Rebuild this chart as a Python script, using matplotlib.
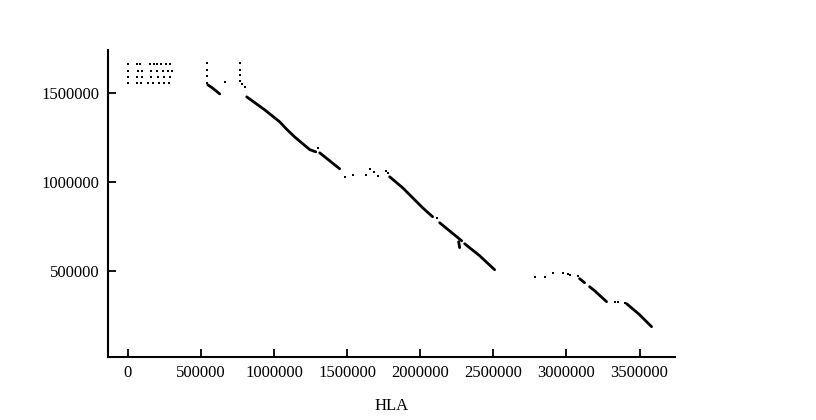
import numpy as np
import matplotlib
matplotlib.use("Agg")
import matplotlib.pyplot as plt

# isolated dots (HLA position, other-sequence position)
dots_x = [
    # top-left grid
    0, 60000, 85000, 155000, 180000, 200000, 225000, 260000, 290000,
    0, 70000, 95000, 160000, 200000, 240000, 275000, 300000,
    0, 65000, 100000, 160000, 210000, 250000, 290000,
    0, 60000, 90000, 140000, 175000, 215000, 250000, 280000,
    # column near 540000
    540000, 540000, 540000, 540000, 663000,
    # column near 766000
    766000, 766000, 766000, 766000, 780000, 800000,
    1298800,
    1483400, 1538100, 1627000, 1654300, 1681700, 1709000, 1763700, 1777400,
    2112300,
    2782300, 2850600, 2905300, 2973700, 3007800, 3021500, 3076200,
    3329100, 3349600, 3397500,
]
dots_y = [
    1663000, 1663000, 1663000, 1663000, 1663000, 1663000, 1663000, 1663000, 1663000,
    1624000, 1624000, 1624000, 1624000, 1624000, 1624000, 1624000, 1624000,
    1590000, 1590000, 1590000, 1590000, 1590000, 1590000, 1590000,
    1556000, 1556000, 1556000, 1556000, 1556000, 1556000, 1556000, 1556000,
    1669000, 1629000, 1595000, 1556000, 1562000,
    1669000, 1629000, 1601000, 1567000, 1551000, 1534000,
    1191000,
    1028100, 1039300, 1039300, 1073000, 1056200, 1033700, 1061800, 1050500,
    797800,
    466300, 466300, 488800, 488800, 483100, 477500, 471900,
    325800, 325800, 320200,
]

# continuous runs of matches
runs = [
    ([547000, 575000, 605000, 629000], [1545000, 1530000, 1510000, 1494000]),
    ([813500, 936500, 1039100, 1087000, 1141600, 1244200, 1285200],
     [1477500, 1404500, 1337100, 1295000, 1252000, 1181000, 1168500]),
    ([1312500, 1380900, 1449200], [1162900, 1118000, 1073000]),
    ([1791000, 1879900, 2016600, 2085000], [1028100, 966300, 853900, 803400]),
    ([2132800, 2283200], [769700, 668500]),
    ([2262800, 2269600], [663000, 630000]),
    ([2303700, 2337900, 2406300, 2508800], [651700, 629200, 584300, 505600]),
    ([3089900, 3124000], [455100, 432600]),
    ([3158200, 3192400, 3274400], [410100, 387600, 325800]),
    ([3411100, 3500000, 3582000], [314600, 252800, 185400]),
]

xticks = [0, 500000, 1000000, 1500000, 2000000, 2500000, 3000000, 3500000]
yticks = [500000, 1000000, 1500000]

plt.rcParams['font.family'] = ['Liberation Serif', 'DejaVu Serif']

fig = plt.figure(figsize=(8.16, 4.2), dpi=100)
ax = fig.add_axes([0.132, 0.15, 0.695, 0.731])

for xs, ys in runs:
    ax.plot(xs, ys, color='black', lw=2.0, solid_capstyle='round')
ax.plot(dots_x, dots_y, linestyle='none', marker='s', markersize=2.1,
        markeredgewidth=0, color='black')

ax.set_xlim(-137000, 3741000)
ax.set_ylim(15000, 1741000)
ax.set_xticks(xticks)
ax.set_yticks(yticks)
ax.set_xticklabels([str(v) for v in xticks])
ax.set_yticklabels([str(v) for v in yticks])
ax.tick_params(direction='in', length=6, width=1.3, labelsize=12, pad=6)
ax.set_xlabel('HLA', fontsize=12, labelpad=12)

for side in ['top', 'right']:
    ax.spines[side].set_visible(False)
for side in ['left', 'bottom']:
    ax.spines[side].set_linewidth(1.5)

fig.savefig('out.png', dpi=100)
